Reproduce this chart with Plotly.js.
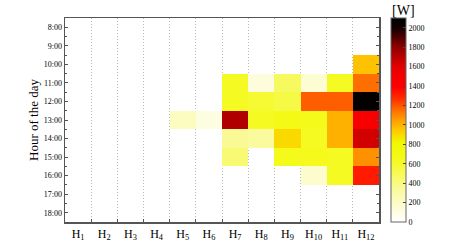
<!DOCTYPE html>
<html>
<head>
<meta charset="utf-8">
<script src="https://cdn.plot.ly/plotly-3.0.1.min.js"></script>
<style>html,body{margin:0;padding:0;background:#fff;}#chart{width:463px;height:250px;}</style>
</head>
<body>
<div id="chart"></div>
<script>
var hubs = [1,2,3,4,5,6,7,8,9,10,11,12];
var hubLabels = ["H<sub>1</sub>","H<sub>2</sub>","H<sub>3</sub>","H<sub>4</sub>","H<sub>5</sub>","H<sub>6</sub>","H<sub>7</sub>","H<sub>8</sub>","H<sub>9</sub>","H<sub>10</sub>","H<sub>11</sub>","H<sub>12</sub>"];
var hours = [8,9,10,11,12,13,14,15,16,17,18];
var hourLabels = ["8:00","9:00","10:00","11:00","12:00","13:00","14:00","15:00","16:00","17:00","18:00"];
// power [W], one row per hour, columns H1..H12 (null = no consumption)
var p08 = [null,null,null,null,null,null,null,null,null,null,null,null];
var p09 = [null,null,null,null,null,null,null,null,null,null,null,null];
var p10 = [null,null,null,null,null,null,null,null,null,null,null,960];
var p11 = [null,null,null,null,null,null,620,120,480,150,620,1150];
var p12 = [null,null,null,null,null,null,620,580,540,1180,1180,2080];
var p13 = [null,null,null,null,220,100,1720,620,680,660,1000,1450];
var p14 = [null,null,null,null,null,null,350,330,900,620,1000,1640];
var p15 = [null,null,null,null,null,null,430,null,660,640,620,1080];
var p16 = [null,null,null,null,null,null,null,null,null,180,620,1320];
var p17 = [null,null,null,null,null,null,null,null,null,null,null,null];
var p18 = [null,null,null,null,null,null,null,null,null,null,null,null];
var z = [p08,p09,p10,p11,p12,p13,p14,p15,p16,p17,p18];

var cscale = [
  [0.0,'rgb(255,255,255)'],
  [0.15,'rgb(250,250,165)'],
  [0.3,'rgb(245,250,30)'],
  [0.39,'rgb(240,248,0)'],
  [0.45,'rgb(255,200,0)'],
  [0.53,'rgb(255,130,0)'],
  [0.6,'rgb(255,50,0)'],
  [0.66,'rgb(255,0,0)'],
  [0.76,'rgb(230,0,0)'],
  [0.86,'rgb(140,0,0)'],
  [0.95,'rgb(20,0,0)'],
  [1.0,'rgb(0,0,0)']
];

var bounds = [];
for (var i = 0; i < hubs.length - 1; i++) bounds.push(hubs[i] + 0.5);
var halfHours = [];
for (var j = 0; j < hours.length; j++) halfHours.push(hours[j] + 0.5);
halfHours.unshift(hours[0] - 0.5);

var serif = 'Liberation Serif, DejaVu Serif, serif';

var trace = {
  type: 'heatmap',
  x: hubs, y: hours, z: z,
  zmin: 0, zmax: 2100,
  colorscale: cscale,
  hoverinfo: 'skip',
  colorbar: {
    x: 1.038, xanchor: 'left', xpad: 0,
    y: 0.5, yanchor: 'middle', ypad: 0, len: 1,
    thickness: 15, thicknessmode: 'pixels',
    outlinecolor: '#666', outlinewidth: 1,
    tickvals: [0,200,400,600,800,1000,1200,1400,1600,1800,2000],
    ticks: 'inside', ticklen: 3, tickcolor: '#444',
    tickfont: {family: serif, size: 8, color: '#000'}
  }
};

var layout = {
  width: 463, height: 250,
  margin: {l: 65, r: 84, t: 18, b: 28},
  paper_bgcolor: '#fff', plot_bgcolor: '#fff',
  font: {family: serif, color: '#000'},
  showlegend: false,
  xaxis: {
    range: [0.5, 12.5],
    tickmode: 'array', tickvals: hubs, ticktext: hubLabels,
    ticks: '', showgrid: false, zeroline: false,
    tickfont: {family: serif, size: 12, color: '#000'},
    showline: true, linecolor: '#555', linewidth: 1.5, mirror: true,
    minor: {tickmode: 'array', tickvals: bounds, ticks: 'inside', ticklen: 3, tickcolor: '#555',
            showgrid: true, gridcolor: '#bbb', griddash: '1px,2px', gridwidth: 1}
  },
  yaxis: {
    range: [18.5, 7.5],
    tickmode: 'array', tickvals: hours, ticktext: hourLabels,
    ticks: 'inside', ticklen: 3, tickcolor: '#555',
    showgrid: false, zeroline: false,
    tickfont: {family: serif, size: 8, color: '#000'},
    showline: true, linecolor: '#555', linewidth: 1.5, mirror: 'ticks',
    minor: {tickmode: 'array', tickvals: halfHours, ticks: 'inside', ticklen: 2, tickcolor: '#555'},
    title: {text: 'Hour of the day', font: {family: serif, size: 13, color: '#000'}, standoff: 2}
  },
  annotations: [{
    text: '[W]', xref: 'paper', yref: 'paper', x: 1.038, y: 1, xanchor: 'left', yanchor: 'bottom',
    showarrow: false, font: {family: serif, size: 14, color: '#000'}, xshift: -1, yshift: -2
  }]
};

Plotly.newPlot('chart', [trace], layout, {staticPlot: true, displayModeBar: false});
</script>
</body>
</html>
